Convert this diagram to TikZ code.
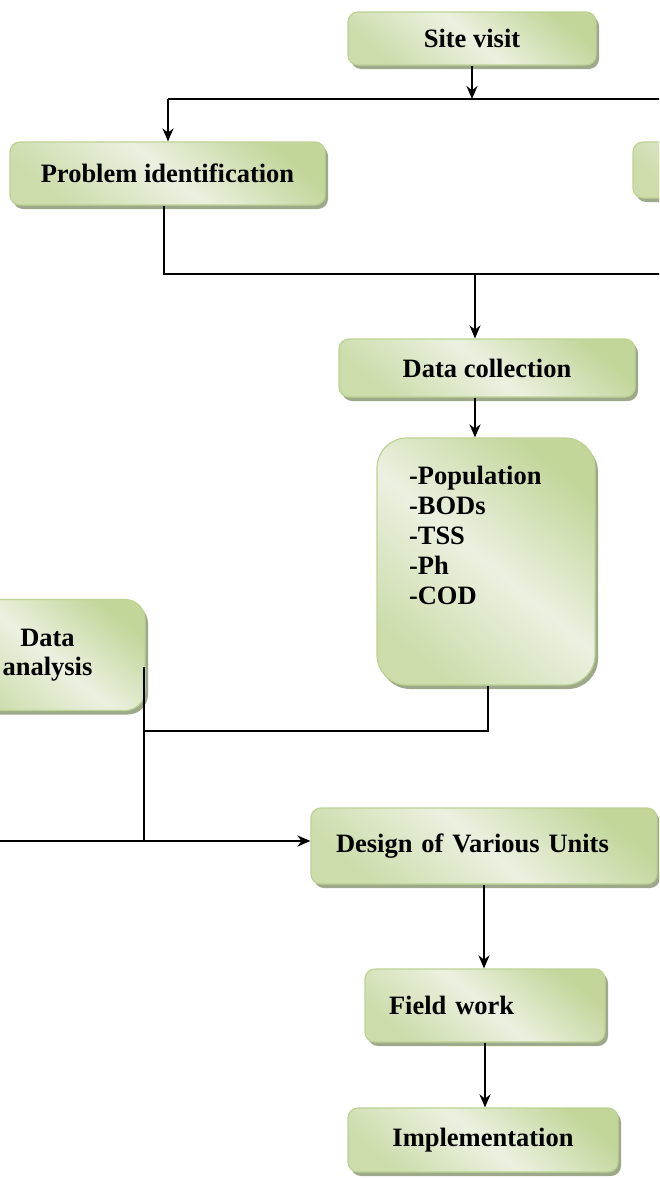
\documentclass[tikz,border=0pt]{standalone}
\usepackage{fontspec}
\setmainfont{Liberation Serif}
\usetikzlibrary{shadows, arrows.meta, positioning}

\definecolor{boxdark}{HTML}{C2D69A}
\definecolor{boxlight}{HTML}{EBF1E0}
\definecolor{boxedge}{HTML}{BCD293}
\definecolor{boxshadow}{HTML}{9DA98A}

\begin{document}
\begin{tikzpicture}[x=1pt, y=-1pt]

    \tikzstyle{box} = [rectangle, rounded corners=10pt, draw=boxedge, line width=1.2pt, top color=boxdark, bottom color=boxdark!75!boxlight, middle color=boxlight, shading angle=-40, drop shadow={shadow xshift=3pt, shadow yshift=-4pt, fill=boxshadow, opacity=1}, inner sep=2pt, font=\bfseries\fontsize{26.5}{29}\selectfont, text centered]
    \tikzstyle{arrow} = [line width=2.6pt, ->, >={Stealth[length=13pt, width=11pt]}]
    \tikzstyle{link} = [line width=2.6pt]

    \useasboundingbox (0,0) rectangle (659,1178);
    \clip (0,0) rectangle (659,1178);

    % Nodes
    \node (site) [box, minimum width=248pt, minimum height=53pt] at (472,38.5) {Site visit};
    \node (probid) [box, minimum width=315pt, minimum height=63pt] at (167.5,173.5) {Problem identification};
    \node (other) [box, minimum width=250pt, minimum height=56pt] at (758,170) {};
    \node (datacol) [box, minimum width=296pt, minimum height=58pt] at (487,368) {Data collection};
    \node (params) [box, rounded corners=30pt, minimum width=218pt, minimum height=247pt] at (486,561.5) {\parbox[c][190pt][t]{154pt}{\baselineskip=30pt -Population\\-BODs\\-TSS\\-Ph\\-COD}};
    \node (analysis) [box, rounded corners=20pt, minimum width=195pt, minimum height=111pt, align=center] at (47.5,655) {Data\\analysis};
    \node (design) [box, minimum width=346pt, minimum height=76pt, text width=296pt, align=left] at (484,846) {Design of Various Units};
    \node (field) [box, minimum width=240pt, minimum height=73pt, text width=192pt, align=left] at (485,1005.5) {Field work};
    \node (impl) [box, minimum width=270pt, minimum height=64pt] at (483,1140) {Implementation};

    % Junctions
    \coordinate (splitL) at (168,99);
    \coordinate (splitR) at (680,99);
    \coordinate (joinL) at (164,274);
    \coordinate (joinR) at (680,274);
    \coordinate (dropC) at (475,274);
    \coordinate (mergeB) at (488,731);
    \coordinate (mergeL) at (144,731);
    \coordinate (feedL) at (-10,841);
    \coordinate (feedM) at (144,841);

    % Arrows
    \draw [arrow] (site) -- (site |- splitL);
    \draw [link] (splitL) -- (splitR);
    \draw [arrow] (splitL) -- (splitL |- probid.north);
    \draw [link] (probid.south -| joinL) -- (joinL) -- (joinR);
    \draw [arrow] (dropC) -- (dropC |- datacol.north);
    \draw [arrow] (datacol.south -| dropC) -- (params.north -| dropC);
    \draw [link] (params.south -| mergeB) -- (mergeB) -- (mergeL);
    \draw [link] ([yshift=-12pt]analysis.east -| mergeL) -- (feedM);
    \draw [arrow] (feedL) -- (feedL -| design.west);
    \draw [arrow] (design.south) -- (design.south |- field.north);
    \draw [arrow] (field.south) -- (field.south |- impl.north);
\end{tikzpicture}
\end{document}
